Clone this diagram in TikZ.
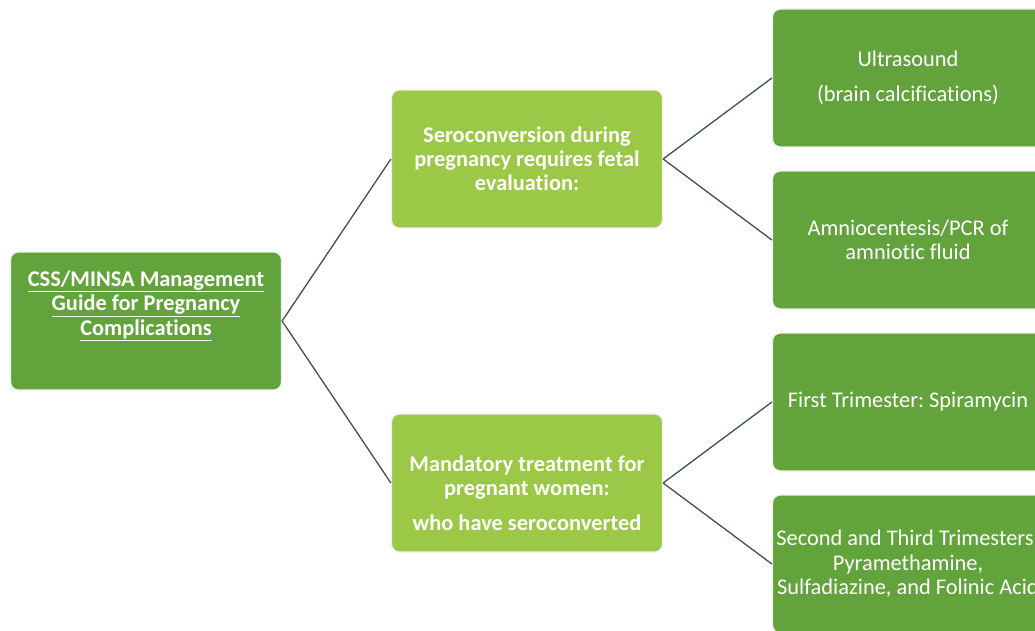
\documentclass[tikz,border=0pt]{standalone}
\usepackage{fontspec}
\setmainfont{Carlito}[Ligatures=NoCommon]
\frenchspacing
\usetikzlibrary{positioning}

\definecolor{darkleaf}{RGB}{98,163,59}
\definecolor{lightleaf}{RGB}{155,200,70}
\definecolor{linkgray}{RGB}{62,82,80}

\begin{document}
\begin{tikzpicture}[x=1pt, y=-1pt,
	box/.style={rounded corners=8pt, draw=white!88!gray, line width=1.2pt, inner sep=0pt,
		minimum width=271pt, minimum height=138pt, align=center, text=white,
		font=\fontsize{22.4}{24.5}\selectfont},
	darkbox/.style={box, fill=darkleaf},
	lightbox/.style={box, fill=lightleaf, font=\fontsize{22.4}{24}\selectfont\bfseries},
	link/.style={draw=linkgray, line width=1.3pt}]
	
	\useasboundingbox (0,0) rectangle (1035,631);
	\clip (0,0) rectangle (1035,631);
	
	\node[darkbox, font=\fontsize{22.4}{24.5}\selectfont\bfseries] (guide) at (146,321)
		{\underline{CSS/MINSA Management}\\\underline{Guide for Pregnancy}\\\underline{Complications}\\[12pt]~};
	
	\node[lightbox] (sero) at (527,159)
		{Seroconversion during\\pregnancy requires fetal\\evaluation:};
	\node[lightbox] (treat) at (527,483)
		{~\\[12pt]Mandatory treatment for\\pregnant women:\\[11pt]who have seroconverted};
	
	\node[darkbox] (ultra) at (908,78) {Ultrasound\\[11pt](brain calcifications)};
	\node[darkbox] (amnio) at (908,240) {Amniocentesis/PCR of\\amniotic fluid};
	\node[darkbox] (first) at (908,402) {First Trimester: Spiramycin};
	\node[darkbox] (second) at (908,564)
		{Second and Third Trimesters:\\Pyramethamine,\\Sulfadiazine, and Folinic Acid};
	
	\draw[link] (guide.east) -- (sero.west);
	\draw[link] (guide.east) -- (treat.west);
	\draw[link] (sero.east) -- (ultra.west);
	\draw[link] (sero.east) -- (amnio.west);
	\draw[link] (treat.east) -- (first.west);
	\draw[link] (treat.east) -- (second.west);

\end{tikzpicture}
\end{document}
